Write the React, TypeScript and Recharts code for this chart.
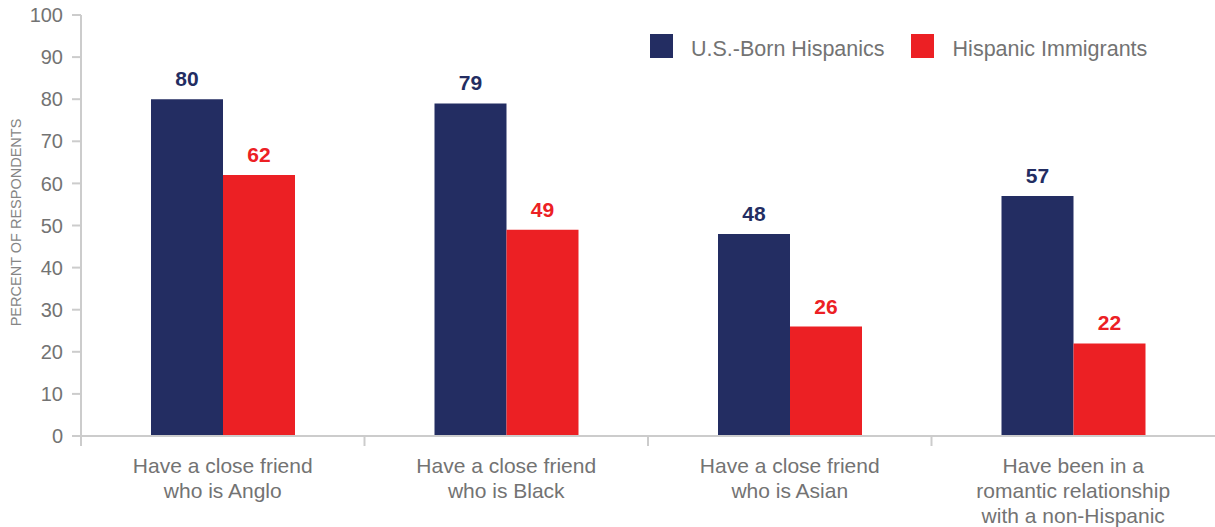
import { BarChart, Bar, XAxis, YAxis, LabelList } from "recharts";

const categories = [
  "Have a close friend\nwho is Anglo",
  "Have a close friend\nwho is Black",
  "Have a close friend\nwho is Asian",
  "Have been in a\nromantic relationship\nwith a non-Hispanic",
];
const usBorn = [80, 79, 48, 57];
const immigrants = [62, 49, 26, 22];
const yTicks = [0, 10, 20, 30, 40, 50, 60, 70, 80, 90, 100];

const NAVY = "#232d62";
const RED = "#ec2024";
const GREY = "#737373";
const AXIS = "#cccccc";
const FONT = "'Liberation Sans', Arial, sans-serif";

const data = categories.map((name, i) => ({ name, usBorn: usBorn[i], immigrants: immigrants[i] }));

const CHART_W = 1215;
const CHART_H = 527;
const Y_W = 81;
const HALF_BAND = (CHART_W - Y_W) / categories.length / 2;

// category labels plus a tick mark on the left boundary of each band
const CategoryTick = ({ x, y, payload }: any) => {
  const lines = String(payload.value).split("\n");
  return (
    <g>
      <line x1={x - HALF_BAND} x2={x - HALF_BAND} y1={y - 8} y2={y + 2} stroke={AXIS} strokeWidth={2} />
      <text x={x} y={y} textAnchor="middle" fill={GREY} fontSize={21} fontFamily={FONT}>
        {lines.map((l, i) => (
          <tspan key={i} x={x} dy={i === 0 ? 29 : 25}>{l}</tspan>
        ))}
      </text>
    </g>
  );
};

export default function App() {
  return (
    <div style={{ position: "absolute", left: 0, top: 0, width: CHART_W, height: CHART_H, background: "#fff" }}>
      <BarChart width={CHART_W} height={CHART_H} data={data}
        margin={{ top: 15, right: 0, left: 0, bottom: 0 }} barCategoryGap={70} barGap={0}>
        <XAxis dataKey="name" height={91} interval={0} tick={<CategoryTick />}
          tickLine={false} axisLine={{ stroke: AXIS, strokeWidth: 2 }} />
        <YAxis width={Y_W} domain={[0, 100]} ticks={yTicks} interval={0}
          tick={{ fill: GREY, fontSize: 20, fontFamily: FONT }} tickSize={9} tickMargin={9}
          tickLine={{ stroke: AXIS, strokeWidth: 2 }} axisLine={{ stroke: AXIS, strokeWidth: 2 }}
          label={{ value: "PERCENT OF RESPONDENTS", angle: -90, position: "insideLeft", dx: 11, dy: -3,
            style: { fill: "#858585", fontSize: 14.5, fontFamily: FONT, textAnchor: "middle" } }} />
        <Bar dataKey="usBorn" fill={NAVY} isAnimationActive={false}>
          <LabelList dataKey="usBorn" position="top" offset={13} fill={NAVY}
            style={{ fontSize: 21, fontWeight: 700, fontFamily: FONT }} />
        </Bar>
        <Bar dataKey="immigrants" fill={RED} isAnimationActive={false}>
          <LabelList dataKey="immigrants" position="top" offset={13} fill={RED}
            style={{ fontSize: 21, fontWeight: 700, fontFamily: FONT }} />
        </Bar>
      </BarChart>
      <div style={{ position: "absolute", left: 650, top: 34, display: "flex", alignItems: "flex-end",
        fontFamily: FONT, fontSize: 21.5, color: GREY, lineHeight: "24px" }}>
        <span style={{ width: 23, height: 24, background: NAVY, display: "inline-block" }} />
        <span style={{ marginLeft: 18, position: "relative", top: 3 }}>U.S.-Born Hispanics</span>
        <span style={{ width: 23, height: 24, background: RED, display: "inline-block", marginLeft: 26 }} />
        <span style={{ marginLeft: 19, position: "relative", top: 3 }}>Hispanic Immigrants</span>
      </div>
    </div>
  );
}
